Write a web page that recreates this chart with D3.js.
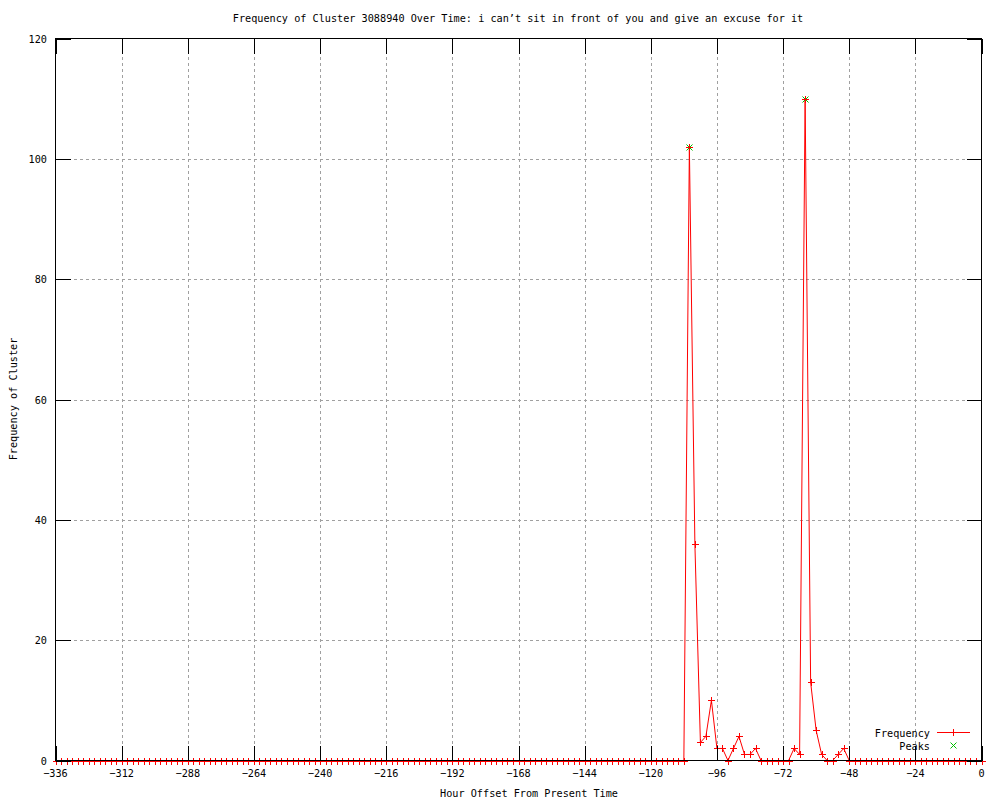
<!DOCTYPE html>
<html>
<head>
<meta charset="utf-8">
<script src="https://cdn.jsdelivr.net/npm/d3@7"></script>
<style>
body { margin: 0; background: #fff; }
text { font-family: "DejaVu Sans Mono", "Liberation Mono", monospace; font-size: 10.2px; fill: #000; }
</style>
</head>
<body>
<svg id="chart" width="1000" height="800"></svg>
<script>
// hours with non-zero counts (everything else on the 2h grid is 0)
var hours = d3.range(-336, 1, 2);
var nonZeroHours = [-106, -104, -102, -100, -98, -96, -94, -90, -88, -86, -84, -82, -68, -66, -64, -62, -60, -58, -52, -50];
var nonZeroCounts = [102, 36, 3, 4, 10, 2, 2, 2, 4, 1, 1, 2, 2, 1, 110, 13, 5, 1, 1, 2];
var peakHours = [-106, -64];
var peakCounts = [102, 110];
var xTicks = d3.range(-336, 1, 24);
var yTicks = [0, 20, 40, 60, 80, 100, 120];

var counts = hours.map(function(h) {
	var i = nonZeroHours.indexOf(h);
	return i < 0 ? 0 : nonZeroCounts[i];
});

function draw() {
	var svg = d3.select("#chart");
	var pLeft = 55.5, pRight = 981.5, pTop = 38.5, pBottom = 760.5;

	var x = d3.scaleLinear().domain([-336, 0]).range([pLeft, pRight]);
	var y = d3.scaleLinear().domain([0, 120]).range([pBottom, pTop]);

	// grid
	var grid = svg.append("g").attr("shape-rendering", "crispEdges");
	grid.selectAll(".gx").data(xTicks.slice(1, -1)).enter().append("line")
		.attr("x1", function(d) { return Math.round(x(d)) + 0.5; })
		.attr("x2", function(d) { return Math.round(x(d)) + 0.5; })
		.attr("y1", pTop).attr("y2", pBottom)
		.attr("stroke", "#a0a0a0").attr("stroke-dasharray", "3,3");
	grid.selectAll(".gy").data(yTicks.slice(1, -1)).enter().append("line")
		.attr("y1", function(d) { return Math.round(y(d)) + 0.5; })
		.attr("y2", function(d) { return Math.round(y(d)) + 0.5; })
		.attr("x1", pLeft).attr("x2", pRight)
		.attr("stroke", "#a0a0a0").attr("stroke-dasharray", "3,3");

	// data line
	var line = d3.line()
		.x(function(d, i) { return x(hours[i]); })
		.y(function(d) { return y(d); });
	svg.append("path").datum(counts)
		.attr("d", line)
		.attr("fill", "none").attr("stroke", "#ff0000").attr("stroke-width", 1);

	// peaks (under the plus markers)
	svg.append("g").selectAll("path").data(peakCounts).enter().append("path")
		.attr("d", function(d, i) {
			var px = Math.round(x(peakHours[i])) + 0.5, py = Math.round(y(d)) + 0.5, k = 3;
			return "M" + (px - k) + "," + (py - k) + "L" + (px + k) + "," + (py + k) + "M" + (px - k) + "," + (py + k) + "L" + (px + k) + "," + (py - k);
		})
		.attr("stroke", "#00c000").attr("fill", "none");

	// plus markers
	var s = 3.5;
	svg.append("g").attr("shape-rendering", "crispEdges")
		.selectAll("path").data(counts).enter().append("path")
		.attr("d", function(d, i) {
			var px = Math.round(x(hours[i])) + 0.5, py = Math.round(y(d)) + 0.5;
			return "M" + (px - s) + "," + py + "H" + (px + s) + "M" + px + "," + (py - s) + "V" + (py + s);
		})
		.attr("stroke", "#ff0000").attr("fill", "none");

	// frame and ticks
	svg.append("rect")
		.attr("x", pLeft).attr("y", pTop)
		.attr("width", pRight - pLeft).attr("height", pBottom - pTop)
		.attr("fill", "none").attr("stroke", "#000").attr("shape-rendering", "crispEdges");

	var tl = 15;
	var ticks = svg.append("g").attr("stroke", "#000").attr("shape-rendering", "crispEdges");
	xTicks.forEach(function(t) {
		var px = Math.round(x(t)) + 0.5;
		ticks.append("line").attr("x1", px).attr("x2", px).attr("y1", pBottom).attr("y2", pBottom - tl);
		ticks.append("line").attr("x1", px).attr("x2", px).attr("y1", pTop).attr("y2", pTop + tl);
	});
	yTicks.forEach(function(t) {
		var py = Math.round(y(t)) + 0.5;
		ticks.append("line").attr("x1", pLeft).attr("x2", pLeft + tl).attr("y1", py).attr("y2", py);
		ticks.append("line").attr("x1", pRight).attr("x2", pRight - tl).attr("y1", py).attr("y2", py);
	});

	// tick labels
	svg.append("g").selectAll("text").data(xTicks).enter().append("text")
		.attr("x", function(d) { return x(d); })
		.attr("y", 777)
		.attr("text-anchor", "middle")
		.text(function(d) { return d == 0 ? "0" : "\u2212" + Math.abs(d); });
	svg.append("g").selectAll("text").data(yTicks).enter().append("text")
		.attr("x", 47)
		.attr("y", function(d) { return y(d) + 4; })
		.attr("text-anchor", "end")
		.text(function(d) { return d; });

	// titles
	svg.append("text").attr("x", 518).attr("y", 22).attr("text-anchor", "middle")
		.text("Frequency of Cluster 3088940 Over Time: i can\u2019t sit in front of you and give an excuse for it");
	svg.append("text").attr("x", 529).attr("y", 797).attr("text-anchor", "middle")
		.text("Hour Offset From Present Time");
	svg.append("text").attr("transform", "translate(17,399) rotate(-90)").attr("text-anchor", "middle")
		.text("Frequency of Cluster");

	// legend
	var lg = svg.append("g");
	lg.append("text").attr("x", 930).attr("y", 737).attr("text-anchor", "end").text("Frequency");
	lg.append("line").attr("x1", 937).attr("x2", 970).attr("y1", 732.5).attr("y2", 732.5).attr("stroke", "#ff0000");
	lg.append("path").attr("d", "M953.5,729V736").attr("stroke", "#ff0000");
	lg.append("text").attr("x", 930).attr("y", 750).attr("text-anchor", "end").text("Peaks");
	lg.append("path").attr("d", "M950.5,742.5L956.5,748.5M950.5,748.5L956.5,742.5").attr("stroke", "#00c000");
}

draw();
</script>
</body>
</html>
